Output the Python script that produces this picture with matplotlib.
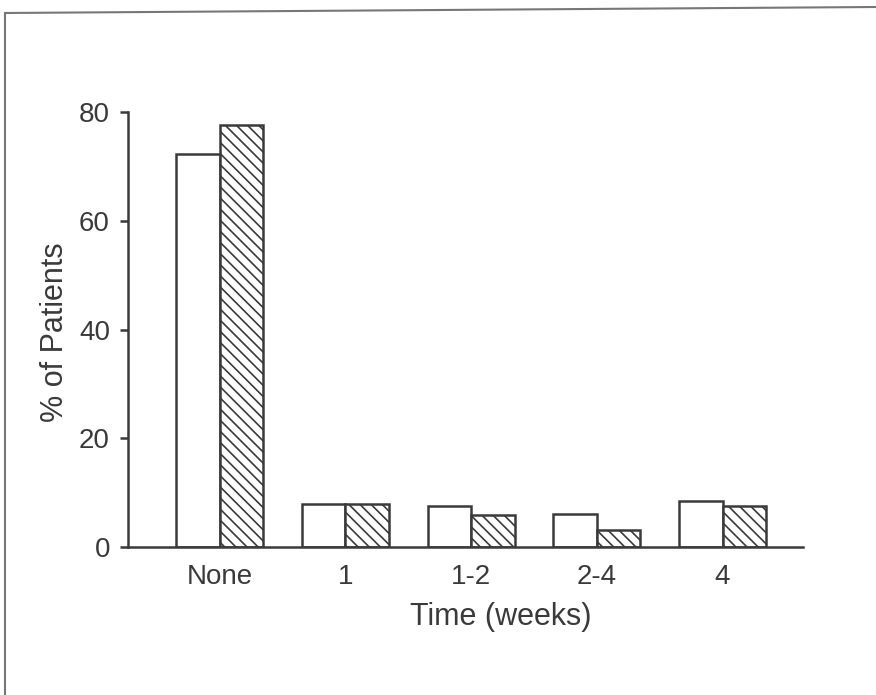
import matplotlib
matplotlib.use("Agg")
import matplotlib.pyplot as plt
import numpy as np
from matplotlib.lines import Line2D

categories = ["None", "1", "1-2", "2-4", "4"]
open_values = [72.3, 8.0, 7.6, 6.0, 8.5]
hatched_values = [77.7, 8.0, 5.9, 3.1, 7.5]
yticks = [0, 20, 40, 60, 80]

plt.rcParams['font.family'] = ['Liberation Sans', 'DejaVu Sans']
ink = '#3a3a3a'
plt.rcParams['hatch.color'] = ink
plt.rcParams['hatch.linewidth'] = 1.2

W, H = 876, 695
fig = plt.figure(figsize=(W / 100, H / 100), dpi=100)
ax = fig.add_axes([128 / W, 1 - 547 / H, (803 - 128) / W, (547 - 112) / H])

x = np.arange(len(categories))
bw = 0.345
ax.bar(x - bw / 2, open_values, width=bw, facecolor='white', edgecolor=ink, linewidth=1.8)
ax.bar(x + bw / 2, hatched_values, width=bw, facecolor='white', edgecolor=ink,
       linewidth=1.8, hatch='\\\\\\')

ax.set_xlim(-0.73, 4.64)
ax.set_ylim(0, 80)
ax.set_yticks(yticks)
ax.set_xticks(x)
ax.set_xticklabels(categories)
for s in ['top', 'right']:
    ax.spines[s].set_visible(False)
for s in ['left', 'bottom']:
    ax.spines[s].set_color(ink)
    ax.spines[s].set_linewidth(1.8)
ax.tick_params(axis='y', direction='out', length=6, width=1.8, color=ink,
               labelsize=20, labelcolor=ink, pad=7)
ax.tick_params(axis='x', length=0, labelsize=20, labelcolor=ink, pad=12)
ax.set_xlabel("Time (weeks)", fontsize=22, color=ink)
ax.xaxis.set_label_coords((501 - 128) / 675, -(617 - 547) / 435, transform=ax.transAxes)
ax.xaxis.label.set_va('center')
ax.set_ylabel("% of Patients", fontsize=22, color=ink)
ax.yaxis.set_label_coords(-(128 - 55) / 675, (547 - 332) / 435, transform=ax.transAxes)
ax.yaxis.label.set_va('center')

# scanned page border
fig.add_artist(Line2D([5 / W, 5 / W], [0, 1 - 13 / H], transform=fig.transFigure,
                      color='#777777', linewidth=1.5))
fig.add_artist(Line2D([5 / W, 1.0], [1 - 13 / H, 1 - 7 / H], transform=fig.transFigure,
                      color='#777777', linewidth=1.5))

fig.savefig("out.png", dpi=100, facecolor='white')
